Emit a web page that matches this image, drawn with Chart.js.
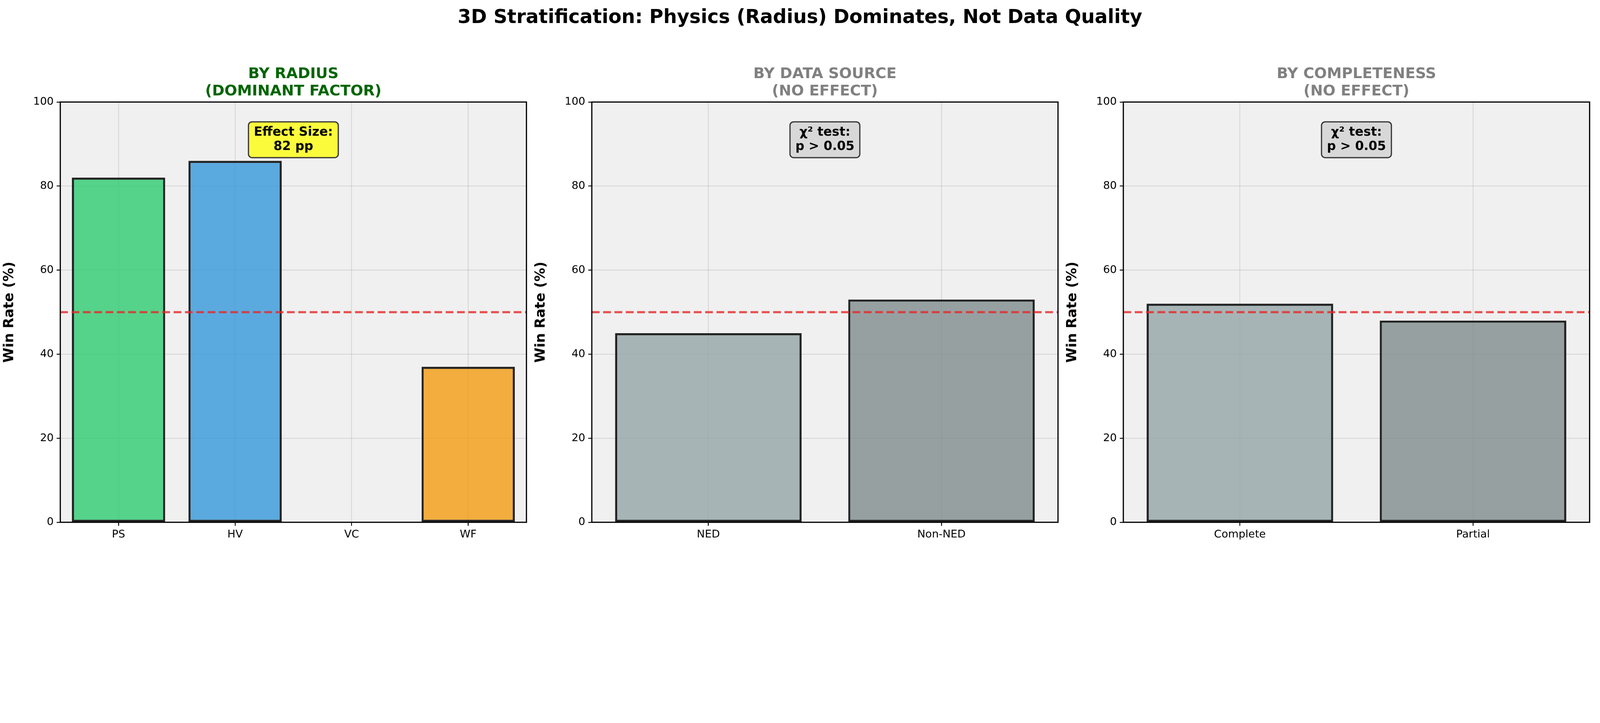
<!DOCTYPE html>
<html><head><meta charset="utf-8">
<script src="https://cdn.jsdelivr.net/npm/chart.js@4"></script>
<style>
html,body{margin:0;background:#fff;overflow:hidden;}
#root{position:absolute;left:0;top:0;width:5364px;height:1851px;transform-origin:0 0;font-family:"DejaVu Sans";}
.w{position:absolute;top:0;width:1800px;height:1851px;}
#sup{position:absolute;top:18px;left:0;width:5364px;text-align:center;font:bold 64px "DejaVu Sans";}
</style></head><body>
<div id="root">
<div id="sup">3D Stratification: Physics (Radius) Dominates, Not Data Quality</div>
<div class="w" style="left:0"><canvas id="c1"></canvas></div>
<div class="w" style="left:1782px"><canvas id="c2"></canvas></div>
<div class="w" style="left:3564px"><canvas id="c3"></canvas></div>
</div>
<script>
const radiusCats=["PS","HV","VC","WF"];
const radiusVals=[82,86,0,37];
const sourceCats=["NED","Non-NED"];
const sourceVals=[45,53];
const compCats=["Complete","Partial"];
const compVals=[52,48];
const yTicks=[0,20,40,60,80,100];

const sc=window.innerWidth/5364;
document.getElementById('root').style.transform='scale('+sc+')';

const F="DejaVu Sans";
function make(id,cats,vals,colors,title,titleColor,box,boxColor){
  const plug={id:'p'+id,
    beforeDraw(ch){const a=ch.chartArea,c=ch.ctx;c.save();c.fillStyle='#f0f0f0';c.fillRect(a.left,a.top,a.width,a.height);c.restore();},
    afterDatasetsDraw(ch){const a=ch.chartArea,c=ch.ctx,y=ch.scales.y;c.save();
      c.strokeStyle='rgba(230,40,40,0.8)';c.lineWidth=7;c.setLineDash([26,12]);
      const yy=y.getPixelForValue(50);c.beginPath();c.moveTo(a.left,yy);c.lineTo(a.right,yy);c.stroke();c.setLineDash([]);
      c.strokeStyle='#000';c.lineWidth=4;c.strokeRect(a.left,a.top,a.width,a.height);
      c.fillStyle=titleColor;c.font='bold 50px '+F;c.textAlign='center';c.textBaseline='alphabetic';
      const cx=(a.left+a.right)/2;c.fillText(title[0],cx,a.top-80);c.fillText(title[1],cx,a.top-22);
      c.font='bold 42px '+F;const lh=48;const w=Math.max(...box.map(t=>c.measureText(t).width))+36;const h=lh*2+24;
      const by=y.getPixelForValue(95)-4;const bx=cx-w/2;
      c.fillStyle=boxColor;c.strokeStyle='#333';c.lineWidth=4;c.beginPath();c.roundRect(bx,by,w,h,12);c.fill();c.stroke();
      c.fillStyle='#000';c.textBaseline='middle';c.fillText(box[0],cx,by+12+lh/2);c.fillText(box[1],cx,by+12+lh*1.5);
      c.restore();}
  };
  new Chart(document.getElementById(id),{type:'bar',
    data:{labels:cats,datasets:[{data:vals,backgroundColor:colors,borderColor:'#222',borderWidth:7,borderSkipped:false,categoryPercentage:1,barPercentage:0.8}]},
    options:{responsive:true,maintainAspectRatio:false,animation:false,
      layout:{padding:{top:342,right:35,left:0,bottom:0}},
      plugins:{legend:{display:false},tooltip:{enabled:false}},
      scales:{
        x:{z:1,grid:{color:'rgba(170,170,170,0.35)',lineWidth:3,offset:false,drawTicks:true,tickLength:12,tickColor:'#000',tickWidth:3},border:{display:false},
           ticks:{color:'#000',font:{family:F,size:36},padding:8},afterFit(s){s.height=100;}},
        y:{z:1,min:0,max:100,afterBuildTicks(s){s.ticks=yTicks.map(v=>({value:v}));},
           grid:{color:'rgba(170,170,170,0.35)',lineWidth:3,tickLength:12,tickColor:'#000',tickWidth:3},border:{display:false},
           ticks:{color:'#000',font:{family:F,size:36},padding:10},
           title:{display:true,text:'Win Rate (%)',color:'#000',font:{family:F,size:46,weight:'bold'},padding:{bottom:18}},
           afterFit(s){s.width=202;}}
      }},
    plugins:[plug]});
}
make('c1',radiusCats,radiusVals,['rgba(46,204,113,0.8)','rgba(52,152,219,0.8)','rgba(155,89,182,0.8)','rgba(243,156,18,0.8)'],
  ['BY RADIUS','(DOMINANT FACTOR)'],'#006400',['Effect Size:','82 pp'],'rgba(255,255,0,0.75)');
make('c2',sourceCats,sourceVals,['rgba(149,165,166,0.8)','rgba(127,140,141,0.8)'],
  ['BY DATA SOURCE','(NO EFFECT)'],'#808080',['χ² test:','p > 0.05'],'rgba(211,211,211,0.85)');
make('c3',compCats,compVals,['rgba(149,165,166,0.8)','rgba(127,140,141,0.8)'],
  ['BY COMPLETENESS','(NO EFFECT)'],'#808080',['χ² test:','p > 0.05'],'rgba(211,211,211,0.85)');
</script></body></html>
